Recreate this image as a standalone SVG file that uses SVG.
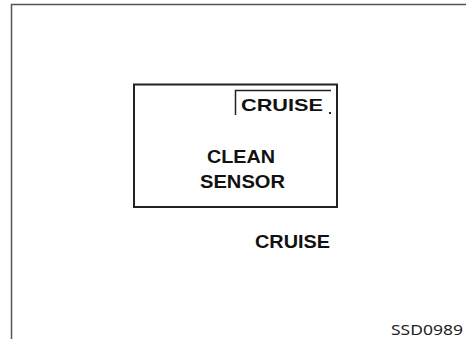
<svg xmlns="http://www.w3.org/2000/svg" width="466" height="339" viewBox="0 0 466 339">
<style>
.t{font-family:"Liberation Sans",Arial,sans-serif;font-weight:bold;fill:#111;}
.ln{fill:none;stroke:#222;}
</style>
<rect width="466" height="339" fill="#fff"/>
<path d="M11.5,339 V4.5 H466" fill="none" stroke="#555" stroke-width="1.5"/>
<g id="display">
<rect x="134" y="84.5" width="203" height="122.5" class="ln" stroke-width="2"/>
<path d="M235.5,115 V90.5 H331" class="ln" stroke-width="1.5"/>
<text x="241" y="111" class="t" font-size="17" textLength="82" lengthAdjust="spacingAndGlyphs">CRUISE</text>
<rect x="329" y="112" width="2" height="2" fill="#222"/>
<text x="241" y="163" class="t" font-size="19" text-anchor="middle" textLength="68" lengthAdjust="spacingAndGlyphs">CLEAN</text>
<text x="242.5" y="188" class="t" font-size="19" text-anchor="middle" textLength="85" lengthAdjust="spacingAndGlyphs">SENSOR</text>
</g>
<g id="cruise-label">
<text x="255" y="248" class="t" font-size="18" textLength="75" lengthAdjust="spacingAndGlyphs">CRUISE</text>
</g>
<text x="391" y="335" font-family="'Noto Sans','DejaVu Sans',sans-serif" font-size="14" fill="#222" textLength="72" lengthAdjust="spacingAndGlyphs">SSD0989</text>
</svg>
